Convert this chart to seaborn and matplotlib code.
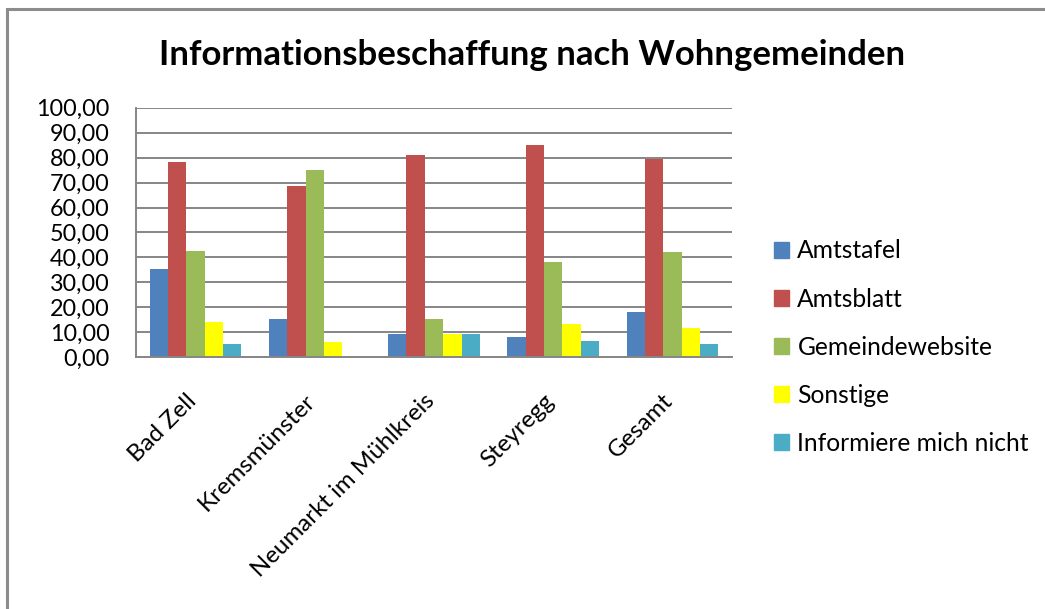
import pandas as pd
import matplotlib.pyplot as plt
import matplotlib.patches as mpatches
import matplotlib.transforms as mtransforms
import seaborn as sns

gemeinden = ['Bad Zell', 'Kremsmünster', 'Neumarkt im Mühlkreis', 'Steyregg', 'Gesamt']
quellen = ['Amtstafel', 'Amtsblatt', 'Gemeindewebsite', 'Sonstige', 'Informiere mich nicht']

amtstafel = [35.4, 15.4, 9.5, 8.1, 18.2]
amtsblatt = [78.2, 68.6, 81.0, 85.0, 79.4]
website = [42.6, 75.0, 15.4, 38.2, 42.2]
sonstige = [14.3, 6.1, 9.5, 13.4, 11.7]
nicht = [5.3, 0.0, 9.5, 6.5, 5.3]

farben = ['#4F81BD', '#C0504D', '#9BBB59', '#FFFF00', '#4BACC6']

if __name__ == '__main__':
    rows = []
    for q, vals in zip(quellen, [amtstafel, amtsblatt, website, sonstige, nicht]):
        for g, v in zip(gemeinden, vals):
            rows.append({'Gemeinde': g, 'Quelle': q, 'Wert': v})
    df = pd.DataFrame(rows)

    sns.set_theme(style='white')
    plt.rcParams['font.family'] = ['Lato', 'DejaVu Sans']
    plt.rcParams['text.color'] = 'black'
    plt.rcParams['xtick.color'] = 'black'
    plt.rcParams['ytick.color'] = 'black'

    fig = plt.figure(figsize=(10.45, 6.09), dpi=100)
    ax = fig.add_axes([0.1301, 0.4133, 0.5704, 0.4099])

    sns.barplot(data=df, x='Gemeinde', y='Wert', hue='Quelle', order=gemeinden,
                hue_order=quellen, palette=farben, width=0.77, saturation=1,
                linewidth=0, ax=ax)

    grau = '#868686'
    ax.set_ylim(0, 100)
    ax.set_xlim(-0.5, 4.5)
    ax.set_yticks(range(0, 101, 10))
    ax.set_yticklabels([f'{v},00' for v in range(0, 101, 10)], fontsize=16.8, color='black')
    ax.yaxis.grid(True, color=grau, linewidth=1.4)
    ax.set_axisbelow(True)
    ax.tick_params(axis='both', length=0)
    ax.tick_params(axis='y', pad=19)
    for s in ['top', 'right']:
        ax.spines[s].set_visible(False)
    for s in ['left', 'bottom']:
        ax.spines[s].set_color(grau)
        ax.spines[s].set_linewidth(1.4)
    ax.set_xlabel('')
    ax.set_ylabel('')
    ax.set_xticks(range(len(gemeinden)))
    ax.set_xticklabels(gemeinden, rotation=45, ha='right', va='center',
                       rotation_mode='anchor', fontsize=17.3, color='black')
    ax.tick_params(axis='x', pad=29)
    shift = mtransforms.ScaledTranslation(-3 / 100, 0, fig.dpi_scale_trans)
    for lbl in ax.get_xticklabels():
        lbl.set_transform(lbl.get_transform() + shift)

    handles = [mpatches.Patch(color=c, label=q) for c, q in zip(farben, quellen)]
    ax.legend(handles=handles, loc='center left', bbox_to_anchor=(0.7407, 0.430),
              bbox_transform=fig.transFigure, frameon=False, fontsize=17.7,
              handlelength=0.62, handleheight=0.62, handletextpad=0.33,
              labelspacing=1.02, borderaxespad=0, borderpad=0)

    fig.text(0.509, 0.893, 'Informationsbeschaffung nach Wohngemeinden',
             ha='center', va='baseline', fontsize=25, fontweight='bold', color='black')

    fig.patches.append(mpatches.Rectangle((7 / 1045, -0.1), 1.2, 1.1 - 9 / 609,
                                          transform=fig.transFigure, fill=False,
                                          edgecolor='#8c8c8c', linewidth=2.2))

    fig.savefig('out.png', dpi=100)
